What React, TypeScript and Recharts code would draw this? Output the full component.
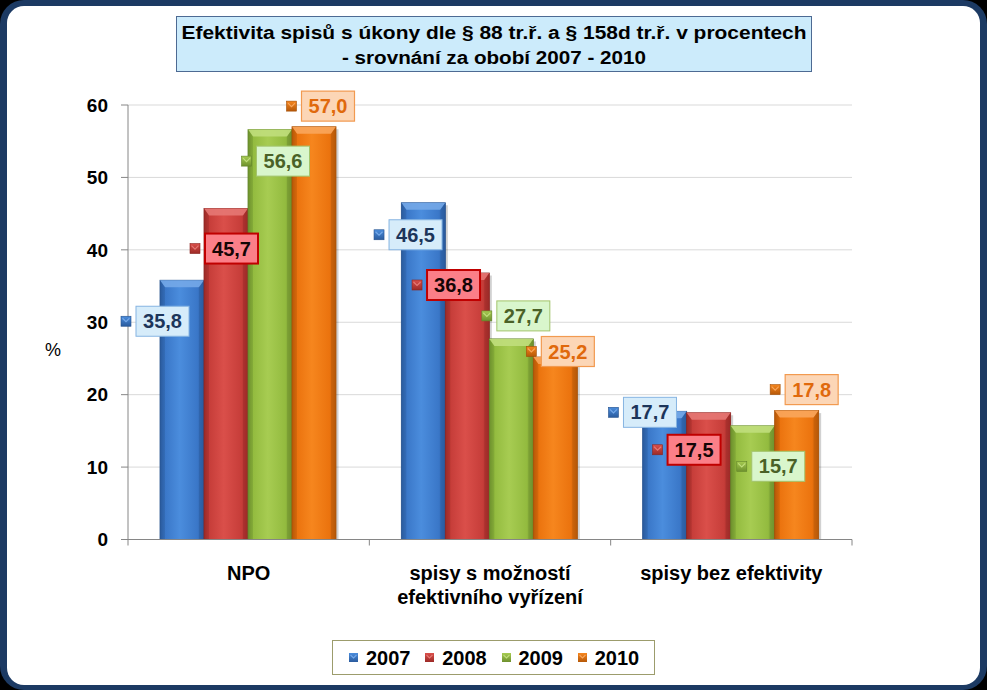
import React from 'react';
import { BarChart, Bar, XAxis, YAxis, CartesianGrid, LabelList, Legend, Label } from 'recharts';

// ---------- data ----------
const categories = ['NPO', 'spisy s možností\nefektivního vyřízení', 'spisy bez efektivity'];
const years = ['2007', '2008', '2009', '2010'];
const values2007 = [35.8, 46.5, 17.7];
const values2008 = [45.7, 36.8, 17.5];
const values2009 = [56.6, 27.7, 15.7];
const values2010 = [57.0, 25.2, 17.8];
const yTicks = [0, 10, 20, 30, 40, 50, 60];
const titleLines = [
  'Efektivita spisů s úkony dle § 88 tr.ř. a § 158d tr.ř. v procentech',
  '- srovnání za obobí 2007 - 2010',
];
const yAxisTitle = '%';

// ---------- layout ----------
const W = 987;
const H = 690;
const FONT = '"Liberation Sans", Arial, Helvetica, sans-serif';
const PLOT = { left: 128, right: 852, top: 105, bottom: 539.5 };
const Y_AXIS_W = 60;
const X_AXIS_H = 60;
const MARGIN = {
  top: PLOT.top,
  right: W - PLOT.right,
  left: PLOT.left - Y_AXIS_W,
  bottom: H - PLOT.bottom - X_AXIS_H,
};
const BAND = (PLOT.right - PLOT.left) / categories.length;

// label box offsets (box centre relative to bar centre / bar top), per series
const labelDx = {
  y2007: [-19.5, -7.8, -14.7],
  y2008: [5.5, -13.8, -14.6],
  y2009: [13, 12, 25.6],
  y2010: [14, 12.5, 15],
};
const labelDy = {
  y2007: [41, 32, 1],
  y2008: [40, 12, 37],
  y2009: [31.5, -23, 40.5],
  y2010: [-20.6, -5.5, -21],
};

const STYLE: Record<string, any> = {
  y2007: { dark: '#2A5B9E', mid: '#3A77C8', light: '#4B8DDD', top: '#74A8E8', edge: '#24508C', boxFill: '#D6ECFA', boxStroke: '#86B4E2', boxW: 1, text: '#1C355A' },
  y2008: { dark: '#9C2A27', mid: '#C63D39', light: '#DA4F4A', top: '#E57874', edge: '#8A2420', boxFill: '#FB7F88', boxStroke: '#C00000', boxW: 2, text: '#150505' },
  y2009: { dark: '#6E912E', mid: '#93BB3F', light: '#A7CC52', top: '#C0DE7C', edge: '#62842A', boxFill: '#D9F6CC', boxStroke: '#A3C46C', boxW: 1, text: '#4A6127' },
  y2010: { dark: '#B65808', mid: '#EB730E', light: '#F6861E', top: '#F9A65C', edge: '#A44F07', boxFill: '#FCD6B6', boxStroke: '#F29A50', boxW: 1.2, text: '#E0690C' },
};

const seriesKeys = ['y2007', 'y2008', 'y2009', 'y2010'];
const seriesValues: Record<string, number[]> = {
  y2007: values2007,
  y2008: values2008,
  y2009: values2009,
  y2010: values2010,
};

const data = categories.map((name, i) => ({
  name,
  y2007: values2007[i],
  y2008: values2008[i],
  y2009: values2009[i],
  y2010: values2010[i],
}));

const fmt = (v: number) => v.toFixed(1).replace('.', ',');

const Marker = ({ x, y, k, size = 10 }: any) => {
  const s = STYLE[k];
  return (
    <g>
      <rect x={x} y={y} width={size} height={size} fill={`url(#mk-${k})`} stroke={s.edge} strokeWidth={0.6} />
      <polyline
        points={`${x + 1.5},${y + 2} ${x + size / 2},${y + size / 2 + 0.5} ${x + size - 1.5},${y + 2}`}
        fill="none"
        stroke={s.top}
        strokeWidth={1.2}
      />
    </g>
  );
};

const makeShape = (k: string) => (props: any) => {
  const { x, y, width, height } = props;
  if (!height || height <= 0) return <g />;
  const s = STYLE[k];
  const bev = Math.min(7, height / 2);
  return (
    <g>
      <rect x={x + 2.5} y={y + 2.5} width={width} height={height - 2.5} fill="#000" opacity={0.18} />
      <rect x={x} y={y} width={width} height={height} fill={`url(#bg-${k})`} stroke={s.edge} strokeWidth={0.8} />
      <polygon
        points={`${x},${y} ${x + width},${y} ${x + width - 5},${y + bev} ${x + 5},${y + bev}`}
        fill={s.top}
        opacity={0.9}
      />
      <polygon
        points={`${x},${y} ${x + 5},${y + bev} ${x + 5},${y + height} ${x},${y + height}`}
        fill={s.dark}
        opacity={0.35}
      />
      <polygon
        points={`${x + width},${y} ${x + width - 5},${y + bev} ${x + width - 5},${y + height} ${x + width},${y + height}`}
        fill={s.dark}
        opacity={0.45}
      />
    </g>
  );
};

const makeLabel = (k: string) => (props: any) => {
  const { x, y, width, value } = props;
  let i = props.index;
  if (i === undefined || i === null) i = seriesValues[k].indexOf(Number(value));
  if (i < 0) i = 0;
  const s = STYLE[k];
  const cx = Number(x) + Number(width) / 2 + labelDx[k][i];
  const cy = Number(y) + labelDy[k][i];
  const bw = 53;
  const bh = 30;
  const left = cx - bw / 2;
  return (
    <g>
      <Marker x={left - 15} y={cy - 5} k={k} />
      <rect x={left} y={cy - bh / 2} width={bw} height={bh} fill={s.boxFill} stroke={s.boxStroke} strokeWidth={s.boxW} />
      <text
        x={cx}
        y={cy + 7}
        textAnchor="middle"
        fontFamily={FONT}
        fontWeight="bold"
        fontSize={20}
        fill={s.text}
      >
        {fmt(Number(value))}
      </text>
    </g>
  );
};

const XTick = (props: any) => {
  const { x, y, payload, index } = props;
  const lines = String(payload.value).split('\n');
  const isLast = index === categories.length - 1;
  return (
    <g>
      <line x1={x - BAND / 2} y1={y} x2={x - BAND / 2} y2={y + 6} stroke="#868686" />
      {isLast && <line x1={x + BAND / 2} y1={y} x2={x + BAND / 2} y2={y + 6} stroke="#868686" />}
      {lines.map((ln, j) => (
        <text
          key={j}
          x={x}
          y={y + 40.5 + j * 24}
          textAnchor="middle"
          fontFamily={FONT}
          fontWeight="bold"
          fontSize={20}
          fill="#000"
        >
          {ln}
        </text>
      ))}
    </g>
  );
};

const renderLegend = () => (
  <div
    style={{
      width: 323,
      height: 35,
      boxSizing: 'border-box',
      border: '1px solid #9C9C6C',
      background: '#fff',
      display: 'flex',
      alignItems: 'center',
      paddingLeft: 16,
      fontFamily: FONT,
      fontWeight: 'bold',
      fontSize: 20,
      color: '#000',
    }}
  >
    {seriesKeys.map((k, i) => (
      <div key={k} style={{ display: 'flex', alignItems: 'center', width: 78 }}>
        <svg width={9} height={9} style={{ display: 'block' }}>
          <defs>
            <linearGradient id={`lmk-${k}`} x1="0" y1="0" x2="0" y2="1">
              <stop offset="0%" stopColor={STYLE[k].light} />
              <stop offset="100%" stopColor={STYLE[k].dark} />
            </linearGradient>
          </defs>
          <rect x={0} y={0} width={9} height={9} fill={`url(#lmk-${k})`} />
          <polyline points="1.5,2 4.5,5 7.5,2" fill="none" stroke={STYLE[k].top} strokeWidth={1.1} />
        </svg>
        <span style={{ marginLeft: 8, lineHeight: '20px' }}>{years[i]}</span>
      </div>
    ))}
  </div>
);

export default function App() {
  return (
    <div style={{ position: 'absolute', left: 0, top: 0, width: W, height: H, background: '#000', overflow: 'hidden' }}>
      <div style={{ position: 'absolute', left: 0, top: 0, width: W, height: H, borderRadius: 24, background: '#1C3A63' }} />
      <div style={{ position: 'absolute', left: 7, top: 6, width: 973, height: 679, borderRadius: 17, background: '#fff' }} />
      <div
        style={{
          position: 'absolute',
          left: 176,
          top: 16,
          width: 636,
          height: 56,
          boxSizing: 'border-box',
          background: '#CCEBFB',
          border: '1px solid #4D6A93',
        }}
      >
        <svg width={634} height={54} style={{ display: 'block' }}>
          <text x={317} y={22} textAnchor="middle" fontFamily={FONT} fontWeight="bold" fontSize={18} fill="#000" textLength={625} lengthAdjust="spacingAndGlyphs">
            {titleLines[0]}
          </text>
          <text x={317} y={47} textAnchor="middle" fontFamily={FONT} fontWeight="bold" fontSize={18} fill="#000" textLength={304} lengthAdjust="spacingAndGlyphs">
            {titleLines[1]}
          </text>
        </svg>
      </div>
      <div style={{ position: 'absolute', left: 0, top: 0 }}>
        <BarChart
          width={W}
          height={H}
          data={data}
          margin={MARGIN}
          barCategoryGap={32}
          barGap={0}
          style={{ background: 'transparent' }}
        >
          <defs>
            {seriesKeys.map((k) => (
              <linearGradient key={`bg-${k}`} id={`bg-${k}`} x1="0" y1="0" x2="1" y2="0">
                <stop offset="0%" stopColor={STYLE[k].dark} />
                <stop offset="12%" stopColor={STYLE[k].mid} />
                <stop offset="45%" stopColor={STYLE[k].light} />
                <stop offset="85%" stopColor={STYLE[k].mid} />
                <stop offset="100%" stopColor={STYLE[k].dark} />
              </linearGradient>
            ))}
            {seriesKeys.map((k) => (
              <linearGradient key={`mk-${k}`} id={`mk-${k}`} x1="0" y1="0" x2="0" y2="1">
                <stop offset="0%" stopColor={STYLE[k].light} />
                <stop offset="100%" stopColor={STYLE[k].dark} />
              </linearGradient>
            ))}
          </defs>
          <CartesianGrid vertical={false} stroke="#D9D9D9" />
          <XAxis
            dataKey="name"
            height={X_AXIS_H}
            axisLine={{ stroke: '#868686' }}
            tickLine={false}
            tickSize={0}
            tickMargin={0}
            tick={<XTick />}
            interval={0}
          />
          <YAxis
            width={Y_AXIS_W}
            domain={[0, 60]}
            ticks={yTicks}
            interval={0}
            axisLine={{ stroke: '#868686' }}
            tickLine={{ stroke: '#868686' }}
            tickSize={7}
            tickMargin={13}
            tick={{ fontFamily: FONT, fontWeight: 'bold', fontSize: 19, fill: '#000' }}
          >
            <Label
              content={() => (
                <text x={PLOT.left - 75} y={356} textAnchor="middle" fontFamily={FONT} fontSize={18} fill="#000">
                  {yAxisTitle}
                </text>
              )}
            />
          </YAxis>
          <Legend
            verticalAlign="middle"
            align="center"
            layout="horizontal"
            content={renderLegend}
            wrapperStyle={{ left: 332, top: 640, width: 323, height: 35 }}
          />
          {seriesKeys.map((k, i) => (
            <Bar key={k} dataKey={k} name={years[i]} fill={STYLE[k].mid} shape={makeShape(k)} isAnimationActive={false}>
              <LabelList dataKey={k} content={makeLabel(k)} />
            </Bar>
          ))}
        </BarChart>
      </div>
    </div>
  );
}
